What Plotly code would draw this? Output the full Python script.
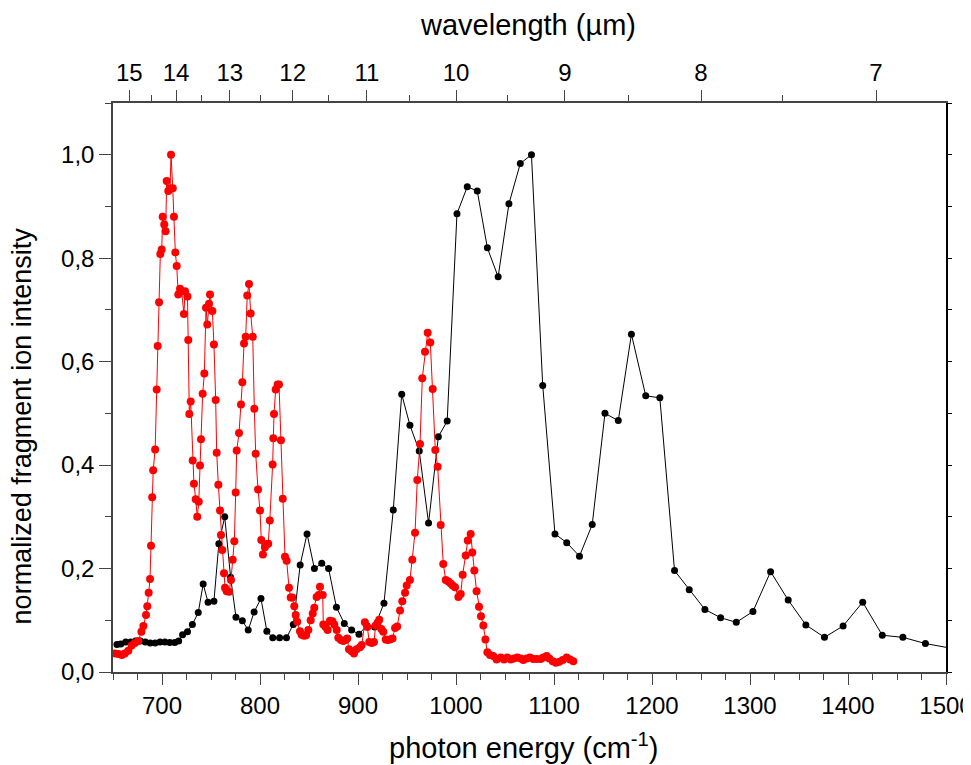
import plotly.graph_objects as go

# ---- data ----
black_x = [654, 658, 663, 668, 673, 678, 683, 688, 693, 698, 703, 708, 713, 717, 721, 726, 731, 737,
           742, 747, 753, 758, 764, 770, 775.5, 782, 788, 794, 801, 807, 813, 820, 827, 834, 841, 848,
           855.5, 863, 870, 878, 886, 893.5, 901, 909, 917, 926.5, 936, 944.6, 953, 962.5, 972, 982,
           991, 1001, 1011.5, 1021.7, 1032, 1043, 1054, 1065.6, 1077, 1088.5, 1101, 1113, 1126, 1139,
           1152, 1165.6, 1179, 1193.6, 1208, 1223, 1238, 1254, 1270, 1286, 1303, 1321, 1339, 1357,
           1376, 1395, 1415, 1435, 1456, 1479, 1505]
black_y = [0.053, 0.054, 0.058, 0.058, 0.060, 0.060, 0.058, 0.056, 0.056, 0.058, 0.058, 0.057, 0.057,
           0.060, 0.072, 0.078, 0.092, 0.115, 0.170, 0.135, 0.137, 0.248, 0.300, 0.183, 0.106, 0.099,
           0.081, 0.116, 0.142, 0.079, 0.066, 0.066, 0.066, 0.092, 0.207, 0.267, 0.200, 0.210, 0.200,
           0.125, 0.094, 0.081, 0.073, 0.090, 0.087, 0.133, 0.313, 0.537, 0.477, 0.427, 0.288, 0.455,
           0.485, 0.886, 0.938, 0.930, 0.820, 0.764, 0.905, 0.983, 1.000, 0.554, 0.267, 0.250, 0.224,
           0.285, 0.500, 0.486, 0.653, 0.534, 0.530, 0.196, 0.159, 0.121, 0.105, 0.096, 0.117, 0.194,
           0.139, 0.091, 0.067, 0.089, 0.135, 0.071, 0.067, 0.055, 0.046]

red_x = [652, 655.4, 659, 662, 665.6, 669, 672.4, 675.8, 679, 681, 683.7, 685, 686.4, 687.8, 688.8,
         690, 691, 693, 694.6, 695.6, 697, 698.3, 699.7, 700.7, 702.3, 703.7, 704.8, 706.4, 708.2,
         709.2, 711, 712.2, 713.6, 715, 716.6, 718.4, 720, 722.4, 723.5, 726, 726.8, 727.9, 729.3,
         731.3, 732.6, 734.4, 736, 737.5, 738.8, 739.8, 741.5, 743.2, 744.9, 746.2, 748, 749, 751.4,
         753, 754.8, 755.8, 757.5, 759.2, 760.2, 761.5, 763.3, 764.3, 766, 768.4, 770.4, 772.1,
         773.8, 775.2, 776.2, 778.6, 780.6, 782, 783.7, 785.4, 787, 788.8, 790.5, 792.6, 794.2,
         795.6, 798, 800, 801.3, 803, 805, 806.8, 808.4, 810, 812.9, 813.6, 814.3, 816, 818, 819.4,
         821.4, 823.2, 825.5, 827.2, 829.6, 831.3, 833, 835, 836.4, 838, 840.8, 842.5, 845, 847,
         849.3, 851.7, 853.8, 855.4, 857.8, 859.9, 861.2, 864, 864.6, 867, 869, 871.4, 873.8, 875.8,
         878.3, 879.9, 882.6, 885, 887.4, 889, 890.8, 893.5, 895.9, 898.6, 902, 903.8, 907, 909.5,
         911.5, 914, 916.3, 918, 920, 921.7, 923.8, 925.8, 928.3, 930.3, 932.6, 935.2, 937.8, 940,
         942.9, 945.2, 948, 949.7, 953, 955.4, 958.2, 960.5, 963.3, 965.6, 968.4, 971.1, 973.8,
         976.2, 978.9, 981.3, 984.4, 987, 989.5, 992.2, 994.6, 996.6, 999, 1002.4, 1004.8, 1006.8,
         1009.9, 1012, 1015, 1016.6, 1018.7, 1021, 1023.5, 1025.5, 1027.9, 1030, 1032, 1034.7, 1038,
         1041.5, 1045.6, 1049, 1052.3, 1055.8, 1059.2, 1062.6, 1066, 1068.7, 1072.1, 1075.5, 1078.9,
         1082.3, 1086.4, 1089.1, 1092.5, 1095.2, 1098.7, 1102, 1105.4, 1108.9, 1113, 1116.3, 1119.7]
red_y = [0.036, 0.035, 0.033, 0.036, 0.041, 0.051, 0.056, 0.060, 0.078, 0.089, 0.110, 0.127, 0.153,
         0.180, 0.244, 0.338, 0.390, 0.430, 0.546, 0.630, 0.715, 0.808, 0.817, 0.880, 0.865, 0.852,
         0.949, 0.930, 0.935, 1.000, 0.935, 0.880, 0.811, 0.785, 0.730, 0.741, 0.736, 0.692, 0.736,
         0.726, 0.642, 0.499, 0.523, 0.409, 0.364, 0.334, 0.300, 0.329, 0.399, 0.450, 0.538, 0.577,
         0.704, 0.672, 0.712, 0.730, 0.698, 0.633, 0.526, 0.424, 0.362, 0.312, 0.265, 0.236, 0.191,
         0.163, 0.156, 0.155, 0.178, 0.217, 0.253, 0.347, 0.428, 0.462, 0.517, 0.560, 0.635, 0.648,
         0.728, 0.750, 0.693, 0.648, 0.509, 0.422, 0.353, 0.312, 0.255, 0.227, 0.241, 0.247, 0.248,
         0.293, 0.401, 0.452, 0.499, 0.546, 0.556, 0.556, 0.448, 0.335, 0.223, 0.215, 0.163, 0.144,
         0.144, 0.127, 0.110, 0.097, 0.079, 0.072, 0.070, 0.071, 0.081, 0.100, 0.113, 0.124, 0.145,
         0.149, 0.165, 0.149, 0.092, 0.087, 0.081, 0.099, 0.098, 0.092, 0.081, 0.066, 0.062, 0.060,
         0.062, 0.065, 0.044, 0.040, 0.036, 0.044, 0.048, 0.052, 0.096, 0.087, 0.058, 0.056, 0.058,
         0.090, 0.095, 0.101, 0.083, 0.078, 0.063, 0.062, 0.063, 0.065, 0.085, 0.088, 0.119, 0.137,
         0.153, 0.167, 0.178, 0.217, 0.269, 0.371, 0.441, 0.568, 0.619, 0.656, 0.637, 0.547, 0.429,
         0.397, 0.284, 0.209, 0.178, 0.175, 0.171, 0.167, 0.164, 0.145, 0.151, 0.188, 0.225, 0.254,
         0.267, 0.231, 0.196, 0.156, 0.126, 0.108, 0.090, 0.063, 0.038, 0.033, 0.031, 0.024, 0.028,
         0.024, 0.028, 0.024, 0.026, 0.028, 0.026, 0.023, 0.026, 0.028, 0.025, 0.025, 0.025, 0.028,
         0.031, 0.026, 0.021, 0.018, 0.020, 0.023, 0.028, 0.024, 0.021]

wl_major = [15, 14, 13, 12, 11, 10, 9, 8, 7]
wl_minor = [14.5, 13.5, 12.5, 11.5, 10.5, 9.5, 8.5, 7.5]

FONT = "Liberation Sans, Arial, sans-serif"
AX = "#444444"
TICKFONT = dict(size=24, family=FONT, color="black")
TITLEFONT = dict(size=29, family=FONT, color="black")
YTITLEFONT = dict(size=27, family=FONT, color="black")

fig = go.Figure()
fig.add_trace(go.Scatter(x=black_x, y=black_y, mode="lines+markers",
                         line=dict(color="black", width=1),
                         marker=dict(color="black", size=7), showlegend=False))
fig.add_trace(go.Scatter(x=red_x, y=red_y, mode="lines+markers",
                         line=dict(color="#ff0000", width=1),
                         marker=dict(color="#ff0000", size=8), showlegend=False))
# invisible carrier trace so the top (wavelength) and right axes get drawn
fig.add_trace(go.Scatter(x=black_x, y=black_y, xaxis="x2", yaxis="y2", mode="markers",
                         marker=dict(opacity=0), hoverinfo="skip", showlegend=False))

# page body has an 8px margin, so the figure is 8px smaller on each side
fig.update_layout(
    width=963, height=757,
    margin=dict(l=105, r=25, t=95, b=93, autoexpand=False),
    plot_bgcolor="white", paper_bgcolor="white",
    separators=",.",
    font=dict(family=FONT, size=24, color="black"),
    xaxis=dict(range=[650, 1500], tickvals=list(range(700, 1501, 100)), automargin=False,
               ticklabeloverflow="allow",
               ticks="outside", ticklen=11, tickwidth=1, tickcolor=AX,
               showline=True, linecolor=AX, linewidth=1.5, showgrid=False, zeroline=False,
               minor=dict(dtick=25, tick0=650, ticks="outside", ticklen=6, tickcolor=AX),
               tickfont=TICKFONT),
    xaxis2=dict(range=[650, 1500], overlaying="x", side="top", anchor="y2", automargin=False,
                tickvals=[10000 / w for w in wl_major], ticktext=[str(w) for w in wl_major],
                ticks="outside", ticklen=11, tickwidth=1, tickcolor=AX,
                showline=True, linecolor=AX, linewidth=1.5, showgrid=False, zeroline=False,
                minor=dict(tickmode="array", tickvals=[10000 / w for w in wl_minor],
                           ticks="outside", ticklen=6, tickcolor=AX),
                tickfont=TICKFONT),
    yaxis=dict(range=[0, 1.1], tickvals=[0, 0.2, 0.4, 0.6, 0.8, 1.0], tickformat=".1f",
               automargin=False,
               ticks="outside", ticklen=12, tickwidth=1, tickcolor=AX,
               showline=True, linecolor=AX, linewidth=1.5, showgrid=False, zeroline=False,
               minor=dict(dtick=0.1, tick0=0, ticks="outside", ticklen=6, tickcolor=AX),
               tickfont=TICKFONT),
    yaxis2=dict(range=[0, 1.1], overlaying="y", side="right", anchor="x2", automargin=False,
                tickvals=[i / 10 for i in range(12)], showticklabels=False,
                ticks="outside", ticklen=4, tickcolor="black",
                showline=True, linecolor="black", linewidth=1.5, showgrid=False, zeroline=False),
)

fig.add_annotation(text="photon energy (cm<sup>-1</sup>)", xref="paper", yref="paper",
                   x=0.493, y=-0.13, yanchor="middle", showarrow=False, font=TITLEFONT)
fig.add_annotation(text="wavelength (µm)", xref="paper", yref="paper",
                   x=0.498, y=1.137, yanchor="middle", showarrow=False, font=TITLEFONT)
fig.add_annotation(text="normalized fragment ion intensity", xref="paper", yref="paper",
                   x=-0.109, y=0.432, textangle=-90, xanchor="center", yanchor="middle",
                   showarrow=False, font=YTITLEFONT)

fig.write_html("out.html")
